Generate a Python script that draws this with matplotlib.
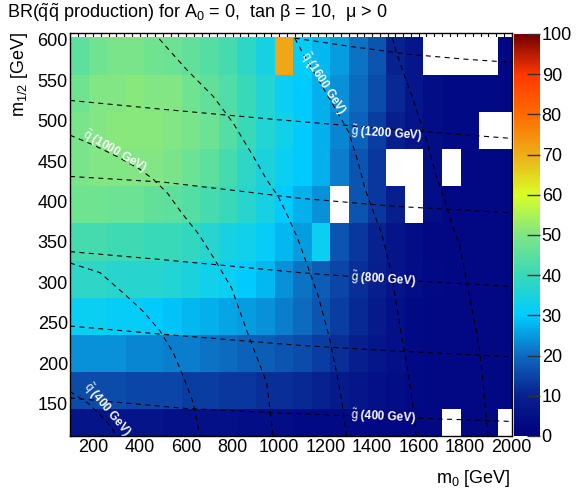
import numpy as np
import matplotlib
matplotlib.use('Agg')
import matplotlib.pyplot as plt
from matplotlib.colors import LinearSegmentedColormap
from matplotlib.ticker import MultipleLocator, AutoMinorLocator

plt.rcParams['font.family'] = ['Liberation Sans', 'DejaVu Sans']
plt.rcParams['mathtext.fontset'] = 'custom'
plt.rcParams['mathtext.rm'] = 'Liberation Sans'
plt.rcParams['mathtext.it'] = 'Liberation Sans'
plt.rcParams['mathtext.bf'] = 'Liberation Sans:bold'

nan = np.nan

# bin edges of the scan (GeV)
m0_edges = np.arange(100, 2021, 80)
m12_edges = [97, 143, 189, 235, 281, 327, 373, 419, 465, 511, 557, 603]

# BR in %, rows from bottom (m1/2 ~120) to top (m1/2 ~580)
row0 = [6, 6, 6, 6, 6, 5, 5, 5, 5, 4, 4, 4, 3, 3, 3, 3, 2, 2, 2, 2, nan, 2, 2, nan]
row1 = [16, 16, 16, 15, 15, 15, 14, 14, 13, 13, 12, 12, 11, 10, 8, 7, 5, 4, 3, 2, 2, 2, 2, 2]
row2 = [24, 24, 24, 23, 23, 22, 22, 21, 20, 19, 18, 17, 16, 14, 12, 9, 7, 5, 3, 2, 2, 2, 2, 2]
row3 = [32, 32, 31, 31, 30, 29, 28, 27, 26, 25, 24, 22, 20, 17, 14, 11, 8, 5, 3, 2, 2, 2, 2, 2]
row4 = [38, 38, 37, 37, 37, 36, 35, 33, 32, 30, 28, 24, 21, 18, 15, 12, 9, 6, 4, 3, 2, 2, 2, 2]
row5 = [42, 42, 41, 41, 40, 40, 39, 37, 34, 33, 31, 28, 25, 32, 17, 13, 10, 6, 4, 2, 2, 2, 2, 2]
row6 = [48, 48, 47, 47, 46, 45, 44, 42, 40, 37, 34, 30, 27, 24, nan, 17, 13, 9, nan, 4, 2, 2, 2, 2]
row7 = [49, 50, 50, 50, 50, 49, 47, 45, 42, 38, 35, 32, 30, 27, 22, 17, 13, nan, nan, 4, nan, 2, 2, 2]
row8 = [49, 50, 51, 51, 51, 50, 49, 47, 44, 40, 36, 33, 30, 27, 23, 19, 14, 9, 6, 4, 3, 3, nan, nan]
row9 = [48, 50, 50, 51, 50, 50, 48, 46, 43, 40, 36, 32, 30, 27, 24, 20, 16, 11, 7, 4, 3, 3, 3, 2]
row10 = [45, 48, 49, 49, 48, 47, 46, 44, 42, 38, 34, 71, 31, 28, 25, 21, 17, 10, 7, nan, nan, nan, nan, 2]

# iso-mass contours (m0, m1/2)
sq400_m0 = [100, 180, 240, 280, 300]
sq400_m12 = [165, 150, 133, 120, 110]
sq700_m0 = [100, 121, 229, 344, 415, 487, 544, 587, 630, 659]
sq700_m12 = [324, 322, 312, 283, 264, 240, 213, 184, 151, 110]
sq1000_m0 = [100, 200, 300, 400, 460, 520, 580, 655, 723, 795, 867, 946, 974]
sq1000_m12 = [482, 470, 456, 440, 427, 410, 386, 359, 328, 293, 235, 176, 110]
sq1300_m0 = [484, 602, 716, 802, 888, 946, 996, 1040, 1081, 1132, 1168, 1218, 1247, 1268, 1290]
sq1300_m12 = [601, 563, 530, 497, 456, 427, 406, 380, 353, 312, 283, 229, 188, 155, 110]
sq1600_m0 = [1067, 1100, 1180, 1261, 1300, 1340, 1370, 1395, 1440, 1480, 1505, 1525, 1548, 1565, 1590]
sq1600_m12 = [602, 584, 545, 505, 485, 448, 415, 395, 361, 315, 272, 235, 200, 170, 110]
sq1900_m0 = [1487, 1504, 1576, 1633, 1676, 1712, 1745, 1777, 1805, 1827, 1848, 1863, 1877, 1898]
sq1900_m12 = [602, 584, 526, 476, 431, 402, 370, 345, 303, 270, 240, 213, 176, 110]

gl400_m0 = [100, 600, 1000, 1400, 2000]
gl400_m12 = [157, 144, 138.5, 134, 128]
gl600_m0 = [100, 490, 1090, 1500, 2000]
gl600_m12 = [246, 236, 222, 215, 208]
gl800_m0 = [100, 500, 1090, 1500, 2000]
gl800_m12 = [338, 328, 312, 303, 295]
gl1000_m0 = [100, 500, 1090, 1500, 2000]
gl1000_m12 = [431, 424, 404, 394, 386]
gl1200_m0 = [100, 500, 1000, 1500, 2000]
gl1200_m12 = [525, 514, 501, 489, 478]
gl1400_m0 = [1067, 1300, 1560, 1800, 2000]
gl1400_m12 = [602, 592, 582, 576, 572]

br = np.array([row0, row1, row2, row3, row4, row5, row6, row7, row8, row9, row10], dtype=float)

# ROOT-like rainbow palette
stops = [(0.00, (0.00, 0.00, 0.50)),
         (0.10, (0.03, 0.13, 0.56)),
         (0.20, (0.05, 0.42, 0.75)),
         (0.30, (0.00, 0.80, 1.00)),
         (0.40, (0.22, 0.85, 0.72)),
         (0.50, (0.50, 0.90, 0.52)),
         (0.60, (0.85, 1.00, 0.15)),
         (0.70, (0.93, 0.68, 0.10)),
         (0.80, (1.00, 0.42, 0.00)),
         (0.90, (1.00, 0.22, 0.00)),
         (1.00, (0.45, 0.00, 0.00))]
cmap = LinearSegmentedColormap.from_list('rootrainbow', stops)
cmap.set_bad('white')

fig = plt.figure(figsize=(5.77, 4.97), dpi=100)
ax = fig.add_axes([70/577, 1-436/497, 441.7/577, 402.7/497])

mesh = ax.pcolormesh(m0_edges, m12_edges, np.ma.masked_invalid(br), cmap=cmap,
                     vmin=0, vmax=100, zorder=2)

dash = (0, (4.5, 4))
for xs, ys in [(sq400_m0, sq400_m12), (sq700_m0, sq700_m12), (sq1000_m0, sq1000_m12),
               (sq1300_m0, sq1300_m12), (sq1600_m0, sq1600_m12), (sq1900_m0, sq1900_m12),
               (gl400_m0, gl400_m12), (gl600_m0, gl600_m12), (gl800_m0, gl800_m12),
               (gl1000_m0, gl1000_m12), (gl1200_m0, gl1200_m12), (gl1400_m0, gl1400_m12)]:
    ax.plot(xs, ys, color='black', lw=0.8, ls=dash, zorder=4)

lab = dict(color='white', fontsize=8.5, fontweight='bold', ha='center', va='center',
           rotation_mode='anchor', zorder=5, clip_on=True)
ax.text(293, 462, r'$\tilde{q}$ (1000 GeV)', rotation=-30, **lab)
ax.text(1189, 546, r'$\tilde{q}$ (1600 GeV)', rotation=-57, **lab)
ax.text(1461, 484, r'$\tilde{g}$ (1200 GeV)', rotation=-4, **lab)
ax.text(1447, 303, r'$\tilde{g}$ (800 GeV)', rotation=-4, **lab)
ax.text(1447, 133, r'$\tilde{g}$ (400 GeV)', rotation=-3, **lab)
ax.text(258, 143, r'$\tilde{q}$ (400 GeV)', rotation=-50, **lab)

ax.set_xlim(100, 2000)
ax.set_ylim(110, 608)
ax.xaxis.set_major_locator(MultipleLocator(200))
ax.xaxis.set_minor_locator(AutoMinorLocator(6))
ax.yaxis.set_major_locator(MultipleLocator(50))
ax.yaxis.set_minor_locator(AutoMinorLocator(5))
ax.tick_params(which='both', direction='in', top=True, right=True, width=0.8, labelsize=13)
ax.tick_params(axis='x', which='major', length=8.5, pad=2.5)
ax.tick_params(axis='x', which='minor', length=4.3)
ax.tick_params(axis='y', which='major', length=7.5, pad=1.5)
ax.tick_params(axis='y', which='minor', length=3.8)
for sp in ax.spines.values():
    sp.set_linewidth(1.0)
    sp.set_zorder(6)

# palette
cax = fig.add_axes([514/577, 1-436/497, 26/577, 402/497])
cb = fig.colorbar(mesh, cax=cax, ticks=range(0, 101, 10))
cb.outline.set_visible(False)
cax.tick_params(direction='in', length=9.5, width=1.0, pad=1.2, labelsize=13, color='#333333')

fig.text(7/577, 1-18.3/497,
         r'BR($\mathrm{\tilde{q}\tilde{q}}$ production) for A$_0$ = 0,  tan β = 10,  μ > 0',
         fontsize=13, va='baseline', ha='left')
fig.text(510/577, 1-483/497, r'm$_0$ [GeV]', fontsize=13, ha='right', va='baseline')
fig.text(20/577, 1-32/497, r'm$_{1/2}$ [GeV]', fontsize=13, rotation=90, ha='center', va='top')

fig.savefig('out.png', dpi=100)
